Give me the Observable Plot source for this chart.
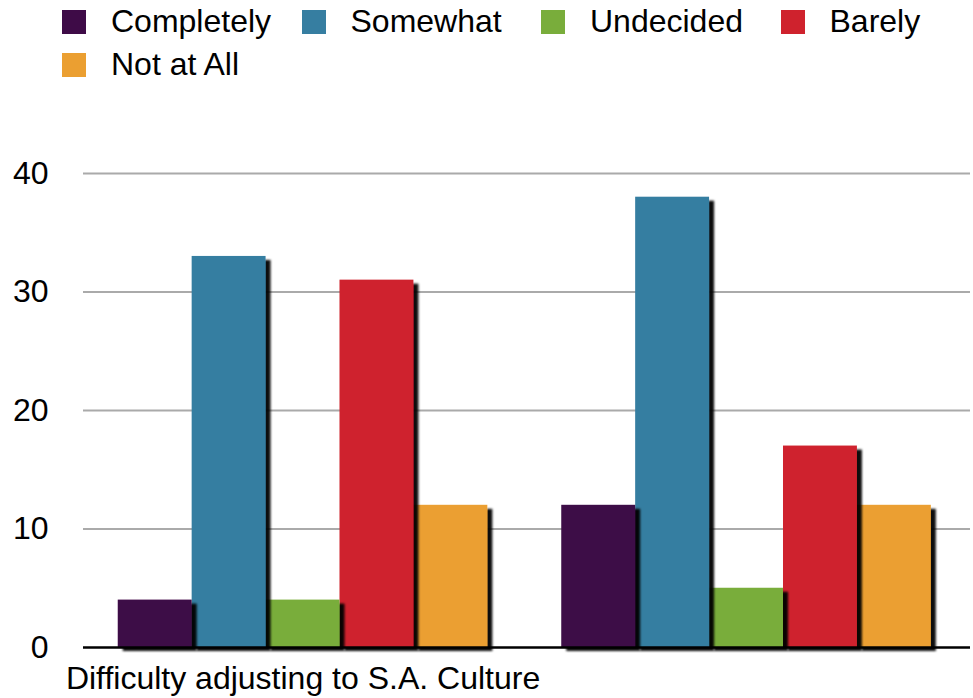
<!DOCTYPE html>
<html>
<head>
<meta charset="utf-8">
<script src="https://cdn.jsdelivr.net/npm/d3@7"></script>
<script src="https://cdn.jsdelivr.net/npm/@observablehq/plot@0.6"></script>
<style>
  html, body { margin: 0; padding: 0; background: #fff; }
  #wrap { position: relative; width: 973px; height: 698px; overflow: hidden; font-family: "Liberation Sans", Arial, Helvetica, sans-serif; }
  #legend { position: absolute; top: 0; left: 62px; display: grid; grid-template-columns: repeat(4, 239.5px); grid-auto-rows: 43px; }
  .item { display: flex; align-items: center; font-size: 32px; color: #000; white-space: nowrap; line-height: 43px; }
  .sw { width: 24px; height: 24px; margin-right: 25px; flex: none; }
  #chart { position: absolute; top: 95px; left: 0; }
</style>
</head>
<body>
<div id="wrap">
  <div id="legend"></div>
  <div id="chart"></div>
</div>
<script>
// ---- data ----
const series = ["Completely", "Somewhat", "Undecided", "Barely", "Not at All"];
const seriesColors = ["#3e0b47", "#367ea1", "#79ad3b", "#cf222d", "#eb9f31"];
const groupLabels = ["Difficulty adjusting to S.A. Culture", ""];
const group1Values = [4, 33, 4, 31, 12];
const group2Values = [12, 38, 5, 17, 12];
const yTicks = [0, 10, 20, 30, 40];

// ---- table ----
const groupValues = [group1Values, group2Values];
const rows = [];
groupValues.forEach((vals, g) => series.forEach((s, i) => rows.push({key: `${g}:${s}`, group: g, series: s, value: vals[i]})));
const xDomain = [];
groupLabels.forEach((_, g) => {
  if (g > 0) xDomain.push(`gap${g}`);
  series.forEach(s => xDomain.push(`${g}:${s}`));
});
const mid = series[Math.floor(series.length / 2)];
const centerKeys = groupLabels.map((_, g) => `${g}:${mid}`);

// ---- legend ----
const legend = document.getElementById("legend");
series.forEach((s, i) => {
  const it = document.createElement("div");
  it.className = "item";
  const sw = document.createElement("span");
  sw.className = "sw";
  sw.style.background = seriesColors[i];
  it.appendChild(sw);
  it.appendChild(document.createTextNode(s));
  legend.appendChild(it);
});

// ---- chart ----
const chart = Plot.plot({
  width: 973,
  height: 603,
  marginTop: 78,
  marginBottom: 51,
  marginLeft: 83,
  marginRight: 3,
  style: {fontFamily: "'Liberation Sans', Arial, Helvetica, sans-serif", fontSize: "32px", color: "#000", background: "#fff", overflow: "visible"},
  x: {domain: xDomain, paddingInner: 0, paddingOuter: 0.5, align: 0.47, round: false, axis: null},
  y: {domain: [0, 40], axis: null},
  color: {domain: series, range: seriesColors},
  marks: [
    Plot.gridY(yTicks.filter(d => d > 0), {stroke: "#aaaaaa", strokeOpacity: 1, strokeWidth: 2}),
    Plot.barY(rows.slice().reverse(), {x: "key", y: "value", fill: "series"}),
    Plot.ruleY([0], {stroke: "#000", strokeWidth: 2.5}),
    Plot.axisY({ticks: yTicks, tickSize: 0, tickPadding: 35, label: null, fontSize: 32}),
    Plot.axisX({ticks: centerKeys, tickSize: 0, tickPadding: 19, label: null, fontSize: 32,
      tickFormat: k => groupLabels[+String(k).split(":")[0]]})
  ]
});
document.getElementById("chart").appendChild(chart);

// drop shadow on bars
const svg = d3.select(chart);
const defs = svg.insert("defs", ":first-child");
const f = defs.append("filter").attr("id", "barShadow")
  .attr("x", "-20%").attr("y", "-20%").attr("width", "160%").attr("height", "160%");
f.append("feDropShadow").attr("dx", 5).attr("dy", 4).attr("stdDeviation", 1.3)
  .attr("flood-color", "#000").attr("flood-opacity", 0.95);
svg.select('g[aria-label="bar"]').selectAll("rect").attr("filter", "url(#barShadow)");
</script>
</body>
</html>
